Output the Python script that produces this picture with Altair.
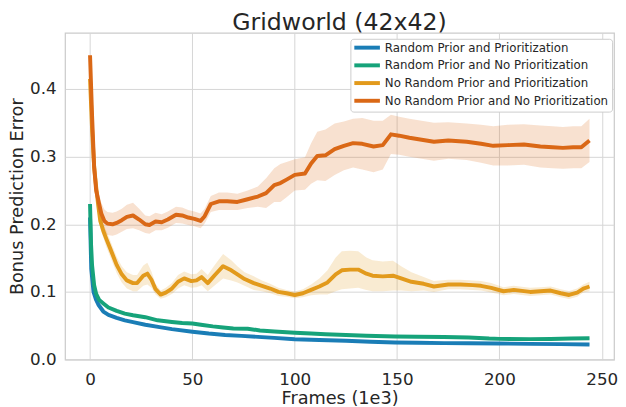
import altair as alt
import pandas as pd

# ---------------- data ----------------
series_names = [
    "Random Prior and Prioritization",
    "Random Prior and No Prioritization",
    "No Random Prior and Prioritization",
    "No Random Prior and No Prioritization",
]
series_colors = ["#1a7db6", "#16a37a", "#e29a1c", "#da6816"]

# Random Prior and Prioritization
rp_p_x = [0, 0.6, 1.7, 3, 4.1, 6.5, 9, 13, 17, 21, 27, 34, 40, 50, 58, 66, 74, 82, 90,
          100, 112, 125, 137, 149, 160, 173, 185, 200, 215, 230, 244]
rp_p_y = [0.210, 0.134, 0.100, 0.088, 0.081, 0.071, 0.066, 0.0616, 0.058, 0.0553, 0.0515,
          0.048, 0.045, 0.0412, 0.0385, 0.0364, 0.035, 0.0335, 0.032, 0.030, 0.0288, 0.0277,
          0.0263, 0.0252, 0.0247, 0.0243, 0.024, 0.0237, 0.0232, 0.0228, 0.0223]

# Random Prior and No Prioritization
rp_np_x = [0, 0.5, 1, 2, 3, 4.5, 6.5, 9, 13, 17, 21, 27, 33, 40, 45, 50, 55, 60, 65, 70,
           77, 83, 90, 100, 108, 115, 125, 135, 149, 160, 173, 185, 195, 200, 215, 225,
           235, 244]
rp_np_y = [0.230, 0.170, 0.139, 0.110, 0.097, 0.088, 0.083, 0.077, 0.072, 0.068, 0.0655,
           0.0626, 0.058, 0.0555, 0.054, 0.0533, 0.051, 0.049, 0.0475, 0.046, 0.0456, 0.043,
           0.0415, 0.0397, 0.0385, 0.0375, 0.0364, 0.0352, 0.034, 0.0336, 0.0333, 0.0325,
           0.031, 0.0306, 0.0302, 0.0305, 0.031, 0.0315]

# No Random Prior and Prioritization
nrp_p_x = [0, 1, 2, 3, 4, 5, 6.5, 8, 10, 13, 15.5, 18, 21, 23, 26, 28, 30, 32, 34.5, 37,
           40, 43, 46, 49.5, 52, 54.5, 57.5, 61, 65, 69, 72, 75.5, 80, 84, 88, 92, 96, 100,
           104, 108, 112, 116, 120, 123, 127, 131, 135, 138, 143, 148, 152, 157, 163, 168,
           175, 181, 187, 191, 196, 202, 207, 215, 220, 225, 230, 234, 238, 241, 244]
nrp_p_y = [0.415, 0.340, 0.285, 0.255, 0.228, 0.205, 0.190, 0.178, 0.163, 0.140, 0.126,
           0.117, 0.113, 0.113, 0.124, 0.127, 0.118, 0.104, 0.096, 0.099, 0.105, 0.115,
           0.120, 0.116, 0.117, 0.122, 0.113, 0.125, 0.138, 0.132, 0.126, 0.119, 0.113,
           0.109, 0.105, 0.100, 0.098, 0.0955, 0.098, 0.103, 0.108, 0.114, 0.126, 0.132,
           0.133, 0.133, 0.127, 0.124, 0.123, 0.124, 0.120, 0.115, 0.112, 0.108, 0.111,
           0.111, 0.110, 0.109, 0.106, 0.101, 0.103, 0.100, 0.101, 0.102, 0.098, 0.0955,
           0.099, 0.105, 0.108]
nrp_p_sd = [0.004, 0.010, 0.010, 0.010, 0.010, 0.010, 0.010, 0.012, 0.012, 0.012, 0.012,
            0.012, 0.012, 0.012, 0.015, 0.016, 0.012, 0.008, 0.006, 0.007, 0.008, 0.010,
            0.010, 0.010, 0.010, 0.012, 0.012, 0.015, 0.018, 0.015, 0.012, 0.010, 0.010,
            0.008, 0.007, 0.006, 0.005, 0.005, 0.006, 0.008, 0.012, 0.018, 0.025, 0.028,
            0.028, 0.027, 0.024, 0.023, 0.022, 0.022, 0.018, 0.014, 0.010, 0.008, 0.007,
            0.007, 0.007, 0.007, 0.007, 0.006, 0.006, 0.006, 0.006, 0.006, 0.006, 0.006,
            0.006, 0.006, 0.007]

# No Random Prior and No Prioritization
nrp_np_x = [0, 1, 2, 3, 4, 5.5, 7, 8.5, 11, 13, 15.5, 18, 21, 24, 27, 29, 32, 35, 38, 42,
            45, 48, 51, 54, 56, 59, 63, 67, 72, 77, 82, 86, 90, 93, 96, 100, 105, 108, 111,
            115, 119.5, 124, 128.5, 133, 138.5, 143, 147, 151, 156, 162, 168, 175, 184,
            191, 197, 204, 212, 220, 226, 231, 236, 240, 244]
nrp_np_y = [0.450, 0.360, 0.285, 0.250, 0.236, 0.216, 0.205, 0.201, 0.200, 0.202, 0.206,
            0.211, 0.213, 0.207, 0.200, 0.199, 0.204, 0.203, 0.207, 0.214, 0.213, 0.210,
            0.208, 0.205, 0.212, 0.230, 0.234, 0.234, 0.233, 0.237, 0.241, 0.246, 0.258,
            0.261, 0.266, 0.273, 0.275, 0.290, 0.301, 0.302, 0.311, 0.316, 0.320, 0.319,
            0.315, 0.317, 0.333, 0.331, 0.328, 0.325, 0.322, 0.324, 0.322, 0.319, 0.316,
            0.317, 0.318, 0.315, 0.314, 0.313, 0.314, 0.314, 0.324]
nrp_np_sd = [0.005, 0.008, 0.010, 0.012, 0.014, 0.016, 0.017, 0.017, 0.017, 0.017, 0.017,
             0.018, 0.019, 0.016, 0.013, 0.013, 0.013, 0.012, 0.012, 0.012, 0.012, 0.011,
             0.011, 0.011, 0.011, 0.012, 0.013, 0.013, 0.012, 0.013, 0.015, 0.022, 0.025,
             0.028, 0.026, 0.023, 0.024, 0.030, 0.036, 0.038, 0.038, 0.036, 0.036, 0.038,
             0.038, 0.036, 0.029, 0.028, 0.028, 0.028, 0.028, 0.027, 0.027, 0.028, 0.029,
             0.030, 0.030, 0.031, 0.031, 0.031, 0.031, 0.031, 0.032]

# ---------------- build table ----------------
band_names = [n + " (band)" for n in series_names]
rows = []
for k, (name, xs, ys, sds) in enumerate([
    (series_names[0], rp_p_x, rp_p_y, None),
    (series_names[1], rp_np_x, rp_np_y, None),
    (series_names[2], nrp_p_x, nrp_p_y, nrp_p_sd),
    (series_names[3], nrp_np_x, nrp_np_y, nrp_np_sd),
]):
    for i, (xv, yv) in enumerate(zip(xs, ys)):
        sd = sds[i] if sds is not None else 0.0012
        rows.append({"series": name, "band": band_names[k], "x": xv, "y": yv,
                     "lo": yv - sd, "hi": yv + sd})
df = pd.DataFrame(rows)

FONT = "DejaVu Sans"
TXT = "#262626"

xscale = alt.Scale(domain=[-12.2, 256], nice=False, zero=False)
yscale = alt.Scale(domain=[0, 0.483], nice=False, zero=False)

base = alt.Chart(df)

bands = base.mark_area(opacity=0.2, clip=True).encode(
    x=alt.X("x:Q", scale=xscale),
    y=alt.Y("lo:Q", scale=yscale),
    y2="hi:Q",
    fill=alt.Fill("band:N", scale=alt.Scale(domain=band_names, range=series_colors),
                  legend=None),
)

lines = base.mark_line(strokeWidth=4, strokeJoin="round", clip=True).encode(
    x=alt.X("x:Q", scale=xscale,
            axis=alt.Axis(title="Frames (1e3)", values=[0, 50, 100, 150, 200, 250],
                          labelPadding=12, titlePadding=3)),
    y=alt.Y("y:Q", scale=yscale,
            axis=alt.Axis(title="Bonus Prediction Error", values=[0, 0.1, 0.2, 0.3, 0.4],
                          format=".1f", labelPadding=9, titlePadding=3)),
    stroke=alt.Stroke(
        "series:N",
        scale=alt.Scale(domain=series_names, range=series_colors),
        legend=alt.Legend(
            title=None, orient="none", legendX=290, legendY=6,
            symbolType="M-4,0H4", symbolSize=42.25, symbolStrokeWidth=4,
            symbolOffset=8, labelOffset=12, rowPadding=2, padding=3,
            labelFont=FONT, labelFontSize=12, labelColor=TXT,
            fillColor="white", strokeColor="#cccccc", cornerRadius=3,
            labelLimit=400,
        ),
    ),
    order="x:Q",
)

chart = (
    alt.layer(bands, lines)
    .properties(
        width=558,
        height=332,
        padding={"left": 0, "top": 0, "right": 0, "bottom": 0},
        title=alt.Title("Gridworld (42x42)", font=FONT, fontSize=24, fontWeight="normal",
                        color=TXT, offset=-2),
    )
    .configure_view(stroke="#cccccc", strokeWidth=1.25)
    .configure_axis(
        labelFont=FONT, labelFontSize=17, labelColor=TXT,
        titleFont=FONT, titleFontSize=18, titleColor=TXT, titleFontWeight="normal",
        ticks=False, domain=False, grid=True, gridColor="#d5d5d5", gridWidth=1,
    )
)

chart.save("out.html", embed_options={"renderer": "svg", "actions": False})
